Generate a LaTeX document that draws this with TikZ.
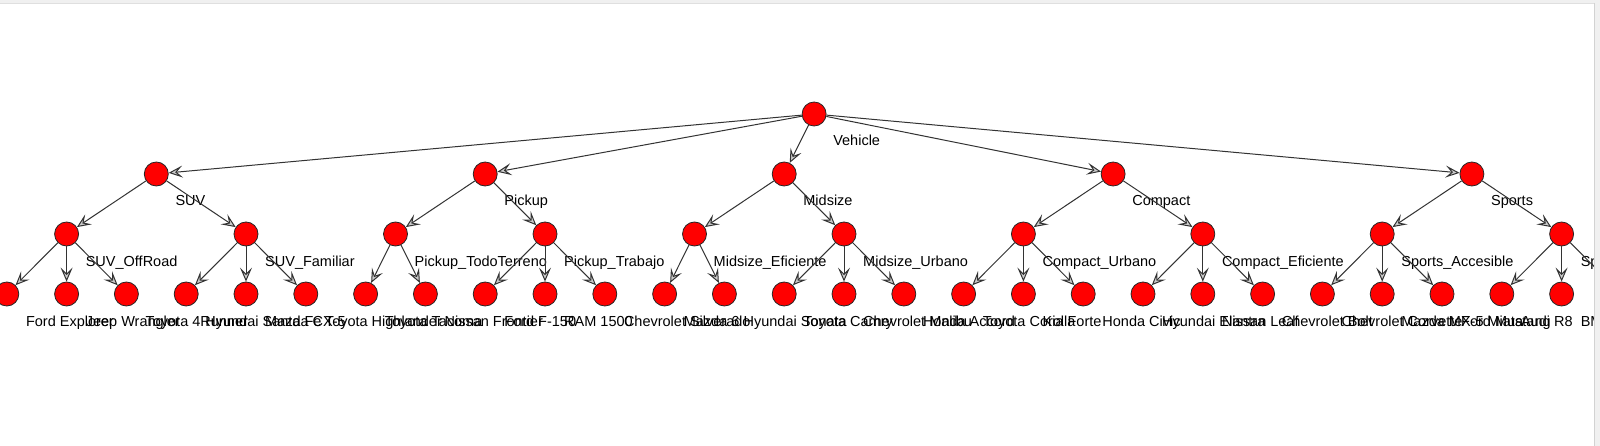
\documentclass[tikz,border=0pt]{standalone}
\usepackage{fontspec}
\setmainfont{Liberation Sans}
\usetikzlibrary{arrows.meta}
\newcommand\mkvtx[4]{%
  \node[vtx] (#1) at (#2,#3) {};
  \node[lab] (#1-t) at (#2+19,#3+32) {#4};}
\begin{document}
\begin{tikzpicture}[x=1pt,y=-1pt,
  vtx/.style={circle,fill=red,draw=black!85,line width=0.8pt,minimum size=24pt,inner sep=0pt},
  lab/.style={anchor=base west,inner sep=0pt,font=\fontsize{14.5}{17}\selectfont,text=black},
  edge/.style={draw=black!80,line width=1pt,-{Stealth[length=14pt,width=12pt,inset=6pt,fill=gray!40]}},
  frame/.style={fill=gray!12}]
\useasboundingbox (0,0) rectangle (1600,446);
\fill[white] (0,0) rectangle (1600,446);
\begin{scope}
\clip (0,3) rectangle (1594,446);
% root
\mkvtx{veh}{814.1}{114}{Vehicle}
% level 1
\mkvtx{suv}{156.3}{174}{SUV}
\mkvtx{pick}{485.2}{174}{Pickup}
\mkvtx{mid}{784.2}{174}{Midsize}
\mkvtx{comp}{1113.1}{174}{Compact}
\mkvtx{spo}{1471.9}{174}{Sports}
% level 2
\mkvtx{suvo}{66.6}{234}{SUV\_OffRoad}
\mkvtx{suvf}{246}{234}{SUV\_Familiar}
\mkvtx{pickt}{395.5}{234}{Pickup\_TodoTerreno}
\mkvtx{pickw}{545}{234}{Pickup\_Trabajo}
\mkvtx{mide}{694.5}{234}{Midsize\_Eficiente}
\mkvtx{midu}{844}{234}{Midsize\_Urbano}
\mkvtx{compu}{1023.4}{234}{Compact\_Urbano}
\mkvtx{compe}{1202.8}{234}{Compact\_Eficiente}
\mkvtx{spoa}{1382.2}{234}{Sports\_Accesible}
\mkvtx{spop}{1561.6}{234}{Sports\_Premium}
% leaves
\mkvtx{l0}{6.8}{294}{Ford Explorer}
\mkvtx{l1}{66.6}{294}{Jeep Wrangler}
\mkvtx{l2}{126.4}{294}{Toyota 4Runner}
\mkvtx{l3}{186.2}{294}{Hyundai Santa Fe}
\mkvtx{l4}{246.0}{294}{Mazda CX-5}
\mkvtx{l5}{305.8}{294}{Toyota Highlander}
\mkvtx{l6}{365.6}{294}{Toyota Tacoma}
\mkvtx{l7}{425.4}{294}{Nissan Frontier}
\mkvtx{l8}{485.2}{294}{Ford F-150}
\mkvtx{l9}{545.0}{294}{RAM 1500}
\mkvtx{l10}{604.8}{294}{Chevrolet Silverado}
\mkvtx{l11}{664.6}{294}{Mazda 6}
\mkvtx{l12}{724.4}{294}{Hyundai Sonata}
\mkvtx{l13}{784.2}{294}{Toyota Camry}
\mkvtx{l14}{844.0}{294}{Chevrolet Malibu}
\mkvtx{l15}{903.8}{294}{Honda Accord}
\mkvtx{l16}{963.6}{294}{Toyota Corolla}
\mkvtx{l17}{1023.4}{294}{Kia Forte}
\mkvtx{l18}{1083.2}{294}{Honda Civic}
\mkvtx{l19}{1143.0}{294}{Hyundai Elantra}
\mkvtx{l20}{1202.8}{294}{Nissan Leaf}
\mkvtx{l21}{1262.6}{294}{Chevrolet Bolt}
\mkvtx{l22}{1322.4}{294}{Chevrolet Corvette}
\mkvtx{l23}{1382.2}{294}{Mazda MX-5 Miata}
\mkvtx{l24}{1442.0}{294}{Ford Mustang}
\mkvtx{l25}{1501.8}{294}{Audi R8}
\mkvtx{l26}{1561.6}{294}{BMW M3}
\node[vtx] (l27) at (1621.4,294) {};
% edges
\foreach \c in {suv,pick,mid,comp,spo} \draw[edge] (veh) -- (\c);
\draw[edge] (suv) -- (suvo); \draw[edge] (suv) -- (suvf);
\draw[edge] (pick) -- (pickt); \draw[edge] (pick) -- (pickw);
\draw[edge] (mid) -- (mide); \draw[edge] (mid) -- (midu);
\draw[edge] (comp) -- (compu); \draw[edge] (comp) -- (compe);
\draw[edge] (spo) -- (spoa); \draw[edge] (spo) -- (spop);
\foreach \p/\c in {suvo/l0,suvo/l1,suvo/l2,suvf/l3,suvf/l4,suvf/l5,
  pickt/l6,pickt/l7,pickw/l8,pickw/l9,pickw/l10,
  mide/l11,mide/l12,midu/l13,midu/l14,midu/l15,
  compu/l16,compu/l17,compu/l18,compe/l19,compe/l20,compe/l21,
  spoa/l22,spoa/l23,spoa/l24,spop/l25,spop/l26,spop/l27}
  \draw[edge] (\p) -- (\c);
\end{scope}
\fill[frame] (0,0) rectangle (1600,3);
\fill[frame] (1594,0) rectangle (1600,446);
\draw[gray!35,line width=0.6pt] (1594.3,3) -- (1594.3,446);
\draw[gray!25,line width=0.6pt] (0,3) -- (1594.3,3);
\end{tikzpicture}
\end{document}
